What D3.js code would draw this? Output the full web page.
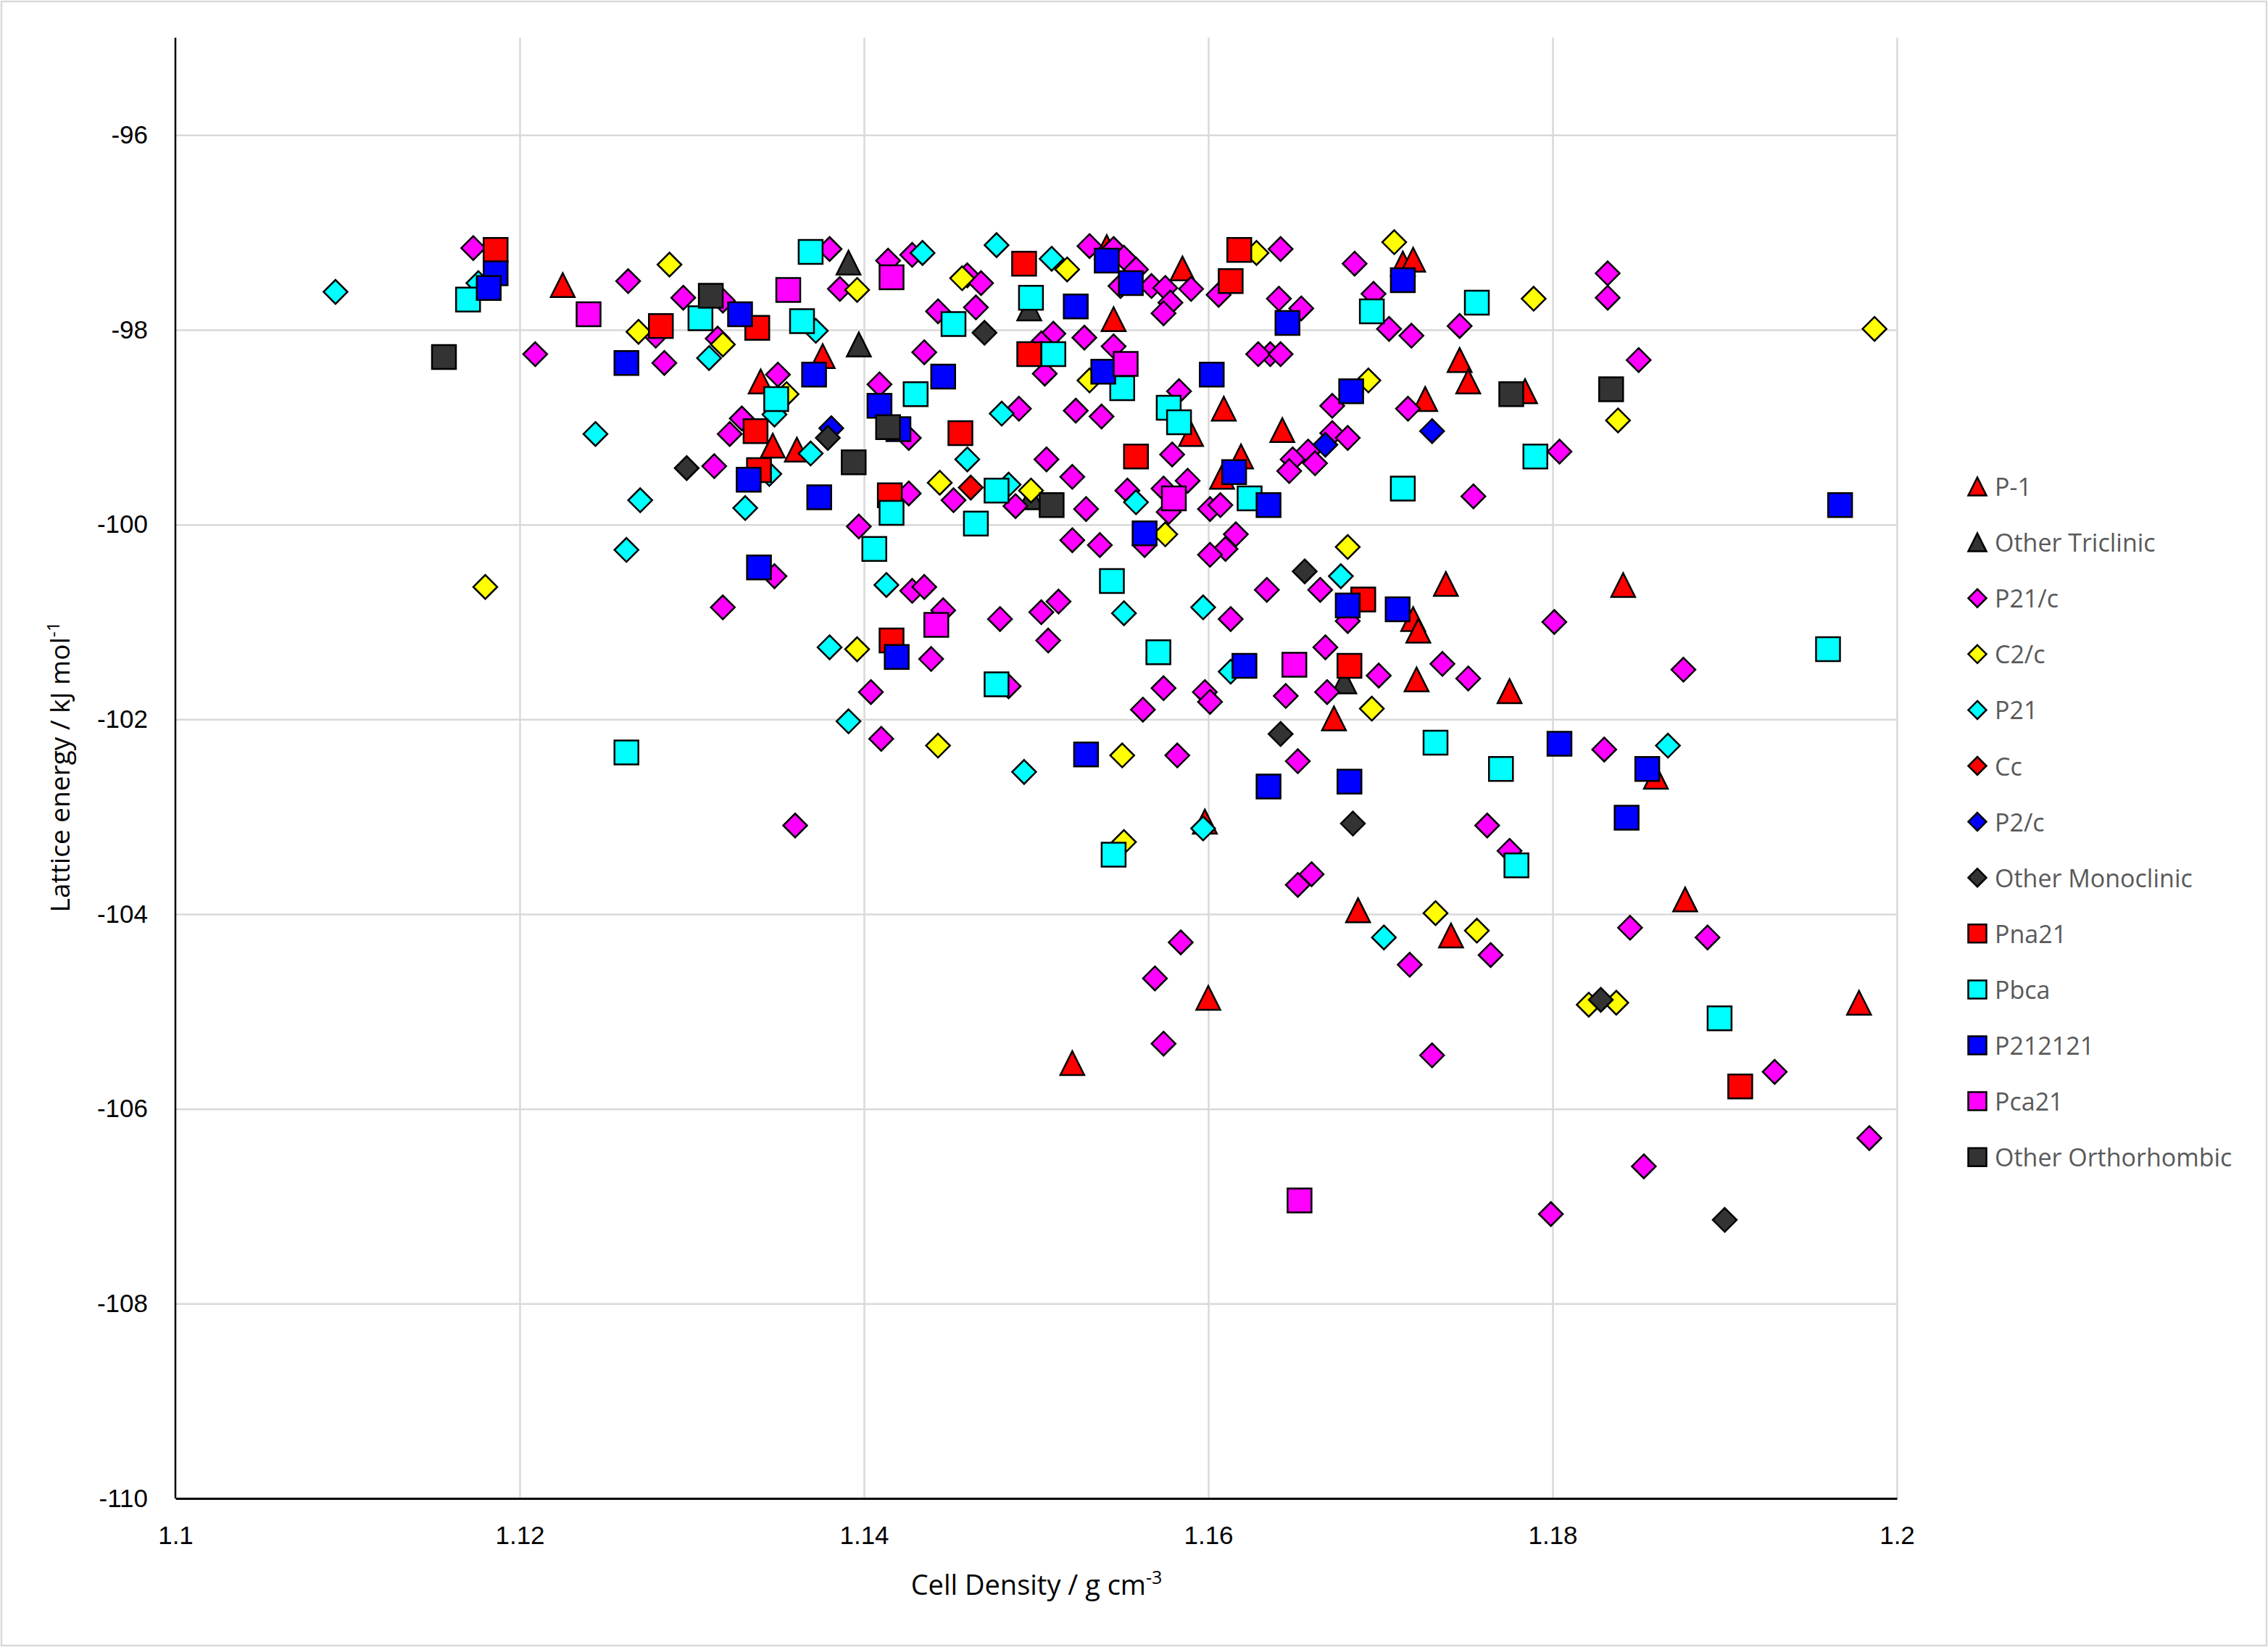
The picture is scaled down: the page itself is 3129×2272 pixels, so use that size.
<!doctype html>
<html>
<head>
<script src="https://cdn.jsdelivr.net/npm/d3@7/dist/d3.min.js"></script>
<style>
  body { margin: 0; background: #fff; }
  svg { display: block; }
</style>
</head>
<body>
<svg id="chart" width="3129" height="2272"></svg>
<script>
// ---- data (cell density g/cm3, lattice energy kJ/mol) ----
var seriesNames = ["P-1", "Other Triclinic", "P21/c", "C2/c", "P21", "Cc", "P2/c",
  "Other Monoclinic", "Pna21", "Pbca", "P212121", "Pca21", "Other Orthorhombic"];
var seriesColors = ["#ff0000", "#333333", "#ff00ff", "#ffff00", "#00ffff", "#ff0000", "#0000ff",
  "#333333", "#ff0000", "#00ffff", "#0000ff", "#ff00ff", "#333333"];
var seriesShapes = ["tri", "tri", "dia", "dia", "dia", "dia", "dia", "dia", "sq", "sq", "sq", "sq", "sq"];

var xTicks = [1.1, 1.12, 1.14, 1.16, 1.18, 1.2];
var yTicks = [-110, -108, -106, -104, -102, -100, -98, -96];

var pMinus1 = [[1.1225,-97.54],[1.1376,-98.27],[1.1340,-98.53],[1.1347,-99.19],[1.1361,-99.23],
  [1.1541,-97.15],[1.1585,-97.37],[1.1545,-97.89],[1.1590,-99.07],[1.1609,-98.81],[1.1643,-99.03],
  [1.1619,-99.30],[1.1608,-99.51],[1.1713,-97.32],[1.1719,-97.28],[1.1746,-98.31],[1.1751,-98.53],
  [1.1726,-98.71],[1.1784,-98.63],[1.1673,-101.99],[1.1598,-103.05],[1.1738,-100.61],[1.1841,-100.62],
  [1.1719,-100.97],[1.1722,-101.09],[1.1721,-101.59],[1.1775,-101.71],[1.1860,-102.59],[1.1687,-103.96],
  [1.1600,-104.86],[1.1521,-105.53],[1.1741,-104.22],[1.1877,-103.85],[1.1978,-104.91]];
var otherTriclinic = [[1.1391,-97.31],[1.1397,-98.15],[1.1496,-97.78],[1.1497,-99.72],[1.1679,-101.61]];
var p21c = [[1.1173,-97.16],[1.1263,-97.50],[1.1209,-98.25],[1.1295,-97.67],[1.1318,-97.70],[1.1279,-98.06],
  [1.1315,-98.09],[1.1284,-98.34],[1.1380,-97.17],[1.1386,-97.58],[1.1350,-98.46],[1.1329,-98.91],
  [1.1322,-99.07],[1.1313,-99.40],[1.1397,-100.02],[1.1348,-100.53],[1.1318,-100.85],[1.1360,-103.09],
  [1.1414,-97.29],[1.1428,-97.23],[1.1460,-97.44],[1.1468,-97.52],[1.1531,-97.14],[1.1545,-97.17],
  [1.1551,-97.26],[1.1558,-97.38],[1.1549,-97.55],[1.1567,-97.55],[1.1575,-97.57],[1.1578,-97.72],
  [1.1574,-97.83],[1.1590,-97.58],[1.1642,-97.17],[1.1606,-97.64],[1.1685,-97.32],[1.1641,-97.68],
  [1.1654,-97.78],[1.1696,-97.63],[1.1443,-97.81],[1.1465,-97.77],[1.1435,-98.23],[1.1510,-98.04],
  [1.1503,-98.14],[1.1505,-98.45],[1.1528,-98.08],[1.1545,-98.17],[1.1409,-98.56],[1.1426,-99.11],
  [1.1490,-98.81],[1.1523,-98.83],[1.1538,-98.89],[1.1583,-98.63],[1.1636,-98.25],[1.1629,-98.25],
  [1.1642,-98.25],[1.1672,-98.78],[1.1672,-99.06],[1.1681,-99.11],[1.1658,-99.25],[1.1649,-99.33],
  [1.1662,-99.37],[1.1647,-99.45],[1.1601,-99.84],[1.1607,-99.80],[1.1579,-99.28],[1.1553,-99.65],
  [1.1574,-99.63],[1.1577,-99.87],[1.1588,-99.55],[1.1529,-99.84],[1.1521,-99.51],[1.1506,-99.33],
  [1.1488,-99.81],[1.1452,-99.75],[1.1426,-99.68],[1.1521,-100.16],[1.1537,-100.21],[1.1563,-100.21],
  [1.1616,-100.10],[1.1610,-100.25],[1.1601,-100.31],[1.1428,-100.68],[1.1435,-100.64],[1.1446,-100.88],
  [1.1439,-101.38],[1.1404,-101.72],[1.1410,-102.20],[1.1479,-100.97],[1.1484,-101.66],[1.1503,-100.90],
  [1.1513,-100.79],[1.1507,-101.19],[1.1574,-101.68],[1.1562,-101.90],[1.1613,-100.97],[1.1598,-101.72],
  [1.1601,-101.82],[1.1634,-100.67],[1.1665,-100.67],[1.1681,-100.99],[1.1668,-101.26],[1.1669,-101.72],
  [1.1645,-101.76],[1.1699,-101.55],[1.1652,-102.43],[1.1582,-102.37],[1.1660,-103.59],[1.1652,-103.70],
  [1.1584,-104.29],[1.1569,-104.66],[1.1574,-105.33],[1.1832,-97.42],[1.1832,-97.67],[1.1705,-97.99],
  [1.1718,-98.06],[1.1746,-97.96],[1.1716,-98.81],[1.1850,-98.31],[1.1804,-99.25],[1.1754,-99.71],
  [1.1801,-101.00],[1.1876,-101.49],[1.1736,-101.43],[1.1751,-101.58],[1.1830,-102.31],[1.1762,-103.09],
  [1.1775,-103.35],[1.1717,-104.52],[1.1764,-104.42],[1.1730,-105.45],[1.1845,-104.14],[1.1890,-104.24],
  [1.1929,-105.62],[1.1984,-106.30],[1.1853,-106.59],[1.1799,-107.08]];
var c2c = [[1.1287,-97.33],[1.1269,-98.02],[1.1318,-98.15],[1.1396,-97.59],[1.1355,-98.66],[1.1518,-97.38],
  [1.1457,-97.47],[1.1628,-97.21],[1.1531,-98.52],[1.1693,-98.52],[1.1497,-99.65],[1.1444,-99.57],
  [1.1575,-100.10],[1.1681,-100.23],[1.1708,-97.10],[1.1789,-97.68],[1.1987,-97.99],[1.1838,-98.93],
  [1.1180,-100.64],[1.1396,-101.28],[1.1443,-102.27],[1.1550,-102.37],[1.1551,-103.26],[1.1695,-101.89],
  [1.1732,-103.99],[1.1756,-104.17],[1.1821,-104.93],[1.1837,-104.91]];
var p21 = [[1.1093,-97.61],[1.1176,-97.52],[1.1310,-98.29],[1.1372,-98.01],[1.1348,-98.87],[1.1369,-99.27],
  [1.1244,-99.07],[1.1345,-99.48],[1.1270,-99.75],[1.1331,-99.83],[1.1262,-100.26],[1.1434,-97.21],
  [1.1477,-97.13],[1.1509,-97.27],[1.1480,-98.86],[1.1558,-99.77],[1.1484,-99.59],[1.1460,-99.33],
  [1.1380,-101.26],[1.1391,-102.02],[1.1413,-100.62],[1.1551,-100.91],[1.1597,-100.85],[1.1613,-101.51],
  [1.1677,-100.53],[1.1493,-102.54],[1.1597,-103.12],[1.1867,-102.27],[1.1702,-104.24]];
var cc = [[1.1462,-99.62]];
var p2c = [[1.1381,-99.01],[1.1668,-99.18],[1.1730,-99.04]];
var otherMonoclinic = [[1.1379,-99.11],[1.1297,-99.42],[1.1470,-98.03],[1.1656,-100.48],[1.1642,-102.15],
  [1.1684,-103.07],[1.1828,-104.88],[1.1900,-107.14]];
var pna21 = [[1.1186,-97.18],[1.1338,-97.98],[1.1282,-97.96],[1.1337,-99.04],[1.1339,-99.44],[1.1493,-97.32],
  [1.1618,-97.18],[1.1613,-97.50],[1.1496,-98.25],[1.1456,-99.06],[1.1558,-99.30],[1.1415,-99.70],
  [1.1416,-101.19],[1.1690,-100.77],[1.1682,-101.45],[1.1909,-105.77]];
var pbca = [[1.1170,-97.69],[1.1305,-97.88],[1.1369,-97.20],[1.1364,-97.91],[1.1349,-98.71],[1.1497,-97.67],
  [1.1452,-97.94],[1.1510,-98.25],[1.1550,-98.60],[1.1430,-98.66],[1.1577,-98.80],[1.1583,-98.95],
  [1.1624,-99.73],[1.1477,-99.65],[1.1416,-99.88],[1.1406,-100.25],[1.1465,-99.99],[1.1695,-97.81],
  [1.1756,-97.72],[1.1790,-99.30],[1.1713,-99.63],[1.1262,-102.34],[1.1544,-100.58],[1.1571,-101.31],
  [1.1477,-101.64],[1.1545,-103.39],[1.1960,-101.28],[1.1732,-102.24],[1.1770,-102.51],[1.1779,-103.50],
  [1.1897,-105.07]];
var p212121 = [[1.1186,-97.42],[1.1182,-97.57],[1.1328,-97.84],[1.1262,-98.34],[1.1371,-98.46],[1.1333,-99.54],
  [1.1374,-99.72],[1.1339,-100.44],[1.1541,-97.29],[1.1555,-97.52],[1.1646,-97.93],[1.1523,-97.76],
  [1.1539,-98.43],[1.1446,-98.48],[1.1409,-98.78],[1.1420,-99.02],[1.1602,-98.46],[1.1683,-98.63],
  [1.1615,-99.46],[1.1635,-99.80],[1.1563,-100.09],[1.1713,-97.49],[1.1967,-99.80],[1.1419,-101.36],
  [1.1621,-101.45],[1.1681,-100.83],[1.1635,-102.69],[1.1682,-102.64],[1.1529,-102.36],[1.1710,-100.87],
  [1.1804,-102.25],[1.1855,-102.51],[1.1843,-103.01]];
var pca21 = [[1.1240,-97.84],[1.1356,-97.59],[1.1416,-97.46],[1.1552,-98.35],[1.1580,-99.73],[1.1442,-101.03],
  [1.1650,-101.44],[1.1653,-106.94]];
var otherOrthorhombic = [[1.1156,-98.28],[1.1311,-97.65],[1.1394,-99.36],[1.1414,-99.00],[1.1509,-99.80],
  [1.1776,-98.66],[1.1834,-98.61]];

var seriesData = [pMinus1, otherTriclinic, p21c, c2c, p21, cc, p2c, otherMonoclinic,
  pna21, pbca, p212121, pca21, otherOrthorhombic];

// ---- layout ----
var svg = d3.select("#chart");
var plotL = 242, plotR = 2617, plotT = 52, plotB = 2067;

var xScale = d3.scaleLinear().domain([1.1, 1.2]).range([plotL, plotR]);
var yScale = d3.scaleLinear().domain([-110, -95]).range([plotB, plotT]);

// outer chart border
svg.append("rect").attr("x", 2).attr("y", 2).attr("width", 3125).attr("height", 2268)
  .attr("fill", "#fff").attr("stroke", "#d9d9d9").attr("stroke-width", 2.5);

// gridlines
svg.append("g").attr("class", "gridY")
  .attr("transform", "translate(" + plotL + ",0)")
  .call(d3.axisLeft(yScale).tickValues(yTicks.slice(1)).tickSize(-(plotR - plotL)).tickFormat(""))
  .call(g => g.select(".domain").remove())
  .call(g => g.selectAll("line").attr("stroke", "#d9d9d9").attr("stroke-width", 2.5));

svg.append("g").attr("class", "gridX")
  .attr("transform", "translate(0," + plotB + ")")
  .call(d3.axisBottom(xScale).tickValues(xTicks.slice(1)).tickSize(-(plotB - plotT)).tickFormat(""))
  .call(g => g.select(".domain").remove())
  .call(g => g.selectAll("line").attr("stroke", "#d9d9d9").attr("stroke-width", 2.5));

// axes
var xAxis = svg.append("g")
  .attr("transform", "translate(0," + plotB + ")")
  .call(d3.axisBottom(xScale).tickValues(xTicks).tickSize(0).tickPadding(38).tickFormat(d => String(d)));
xAxis.select(".domain").attr("stroke", "#000").attr("stroke-width", 3);
xAxis.selectAll("text").attr("font-family", "Liberation Sans, Arial, sans-serif")
  .attr("font-size", 35).attr("fill", "#000");

var yAxis = svg.append("g")
  .attr("transform", "translate(" + plotL + ",0)")
  .call(d3.axisLeft(yScale).tickValues(yTicks).tickSize(0).tickPadding(38).tickFormat(d => String(d)));
yAxis.select(".domain").attr("stroke", "#000").attr("stroke-width", 2.5)
  .attr("d", "M0," + plotT + "V" + plotB);
yAxis.selectAll("text").attr("font-family", "Liberation Sans, Arial, sans-serif")
  .attr("font-size", 35).attr("fill", "#000");

// marker shapes as d3 symbol types (size = side^2)
var shapeTypes = {
  tri: { draw: function(ctx, size) { var h = Math.sqrt(size) / 2;
    ctx.moveTo(0, -h); ctx.lineTo(h, h); ctx.lineTo(-h, h); ctx.closePath(); } },
  dia: { draw: function(ctx, size) { var h = Math.sqrt(size) / 2;
    ctx.moveTo(0, -h); ctx.lineTo(h, 0); ctx.lineTo(0, h); ctx.lineTo(-h, 0); ctx.closePath(); } },
  sq: { draw: function(ctx, size) { var h = Math.sqrt(size) / 2;
    ctx.rect(-h, -h, 2 * h, 2 * h); } }
};

// points
var plot = svg.append("g").attr("class", "points");
seriesData.forEach(function(pts, i) {
  var sym = d3.symbol().type(shapeTypes[seriesShapes[i]]).size(33 * 33);
  plot.append("g").selectAll("path")
    .data(pts)
    .enter().append("path")
    .attr("d", sym)
    .attr("transform", d => "translate(" + xScale(d[0]) + "," + yScale(d[1]) + ")")
    .attr("fill", seriesColors[i])
    .attr("stroke", "#000")
    .attr("stroke-width", 2.5)
    .attr("stroke-linejoin", "miter");
});

// legend
var legend = svg.append("g").attr("class", "legend");
seriesNames.forEach(function(name, i) {
  var ly = 671 + i * 77.1;
  var sym = d3.symbol().type(shapeTypes[seriesShapes[i]]).size(25 * 25);
  legend.append("path").attr("d", sym)
    .attr("transform", "translate(2728," + ly + ")")
    .attr("fill", seriesColors[i]).attr("stroke", "#000").attr("stroke-width", 2.5);
  legend.append("text").attr("x", 2752).attr("y", ly)
    .attr("dominant-baseline", "central")
    .attr("font-family", "Open Sans, sans-serif").attr("font-size", 34)
    .attr("fill", "#595959").text(name);
});

// axis titles
var xt = svg.append("text").attr("x", 1430).attr("y", 2200).attr("text-anchor", "middle")
  .attr("font-family", "Open Sans, sans-serif").attr("font-size", 38).attr("fill", "#000");
xt.append("tspan").text("Cell Density / g cm");
xt.append("tspan").attr("dy", -15).attr("font-size", 25).text("-3");

var yt = svg.append("text").attr("transform", "translate(96,1058) rotate(-90)").attr("text-anchor", "middle")
  .attr("font-family", "Open Sans, sans-serif").attr("font-size", 37).attr("fill", "#000");
yt.append("tspan").text("Lattice energy / kJ mol");
yt.append("tspan").attr("dy", -14).attr("font-size", 24).text("-1");
</script>
</body>
</html>
